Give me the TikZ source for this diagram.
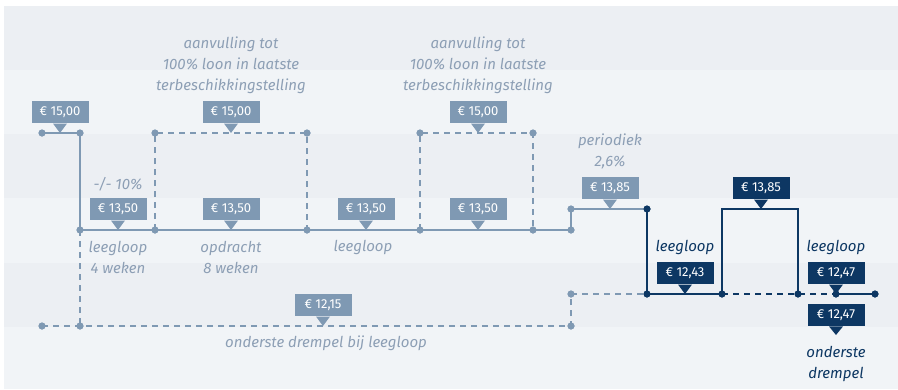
\documentclass[tikz,border=0pt]{standalone}
\usepackage{fontspec}
\setmainfont{Fira Sans}
\usetikzlibrary{calc}
\definecolor{bgA}{HTML}{ECEFF3}
\definecolor{bgB}{HTML}{F1F4F7}
\definecolor{lite}{HTML}{7F99B3}
\definecolor{litetxt}{HTML}{8D9FB5}
\definecolor{navy}{HTML}{0D3763}
\tikzset{
  dotl/.style={circle,fill=lite,inner sep=0pt,minimum size=7pt},
  dotd/.style={circle,fill=navy,inner sep=0pt,minimum size=7pt},
  lsolid/.style={draw=lite,line width=1.5pt},
  ldash/.style={draw=lite,line width=1.3pt,dash pattern=on 6pt off 5pt},
  dsolid/.style={draw=navy,line width=1.5pt},
  ddash/.style={draw=navy,line width=1.3pt,dash pattern=on 6pt off 5pt},
  pricebox/.style={rectangle,inner sep=0pt,minimum width=57pt,minimum height=22pt,text=white,font=\fontsize{13}{15}\selectfont},
  lbl/.style={align=center,text=litetxt,font=\fontsize{15}{21}\selectfont\itshape},
  dlbl/.style={align=center,text=navy,font=\fontsize{15}{21}\selectfont\itshape}
}
\newcommand{\callup}[5]{% name, x, y(tip), text, color
  \node[pricebox,fill=#5,anchor=south] (#1) at (#2,#3-9.5) {#4};
  \fill[#5] ($(#1.south)+(-7pt,0)$) -- (#2,#3) -- ($(#1.south)+(7pt,0)$) -- cycle;}
\begin{document}
\begin{tikzpicture}[x=1pt,y=-1pt]
\useasboundingbox (0,0) rectangle (898,389);
\fill[white] (0,0) rectangle (898,389);
\fill[bgA] (4,6) rectangle (898,70);
\fill[bgB] (4,70) rectangle (898,134);
\fill[bgA] (4,134) rectangle (898,198);
\fill[bgB] (4,198) rectangle (898,263);
\fill[bgA] (4,263) rectangle (898,327);
\fill[bgB] (4,327) rectangle (898,389);

% light dots
\node[dotl] (a1) at (42,133) {};
\node[dotl] (a2) at (80,133) {};
\node[dotl] (b1) at (155,133) {};
\node[dotl] (b2) at (307,133) {};
\node[dotl] (c1) at (420,133) {};
\node[dotl] (c2) at (533,133) {};
\node[dotl] (m0) at (80,230) {};
\node[dotl] (m1) at (155,230) {};
\node[dotl] (m2) at (307,230) {};
\node[dotl] (m3) at (420,230) {};
\node[dotl] (m4) at (533,230) {};
\node[dotl] (m5) at (571,230) {};
\node[dotl] (q1) at (571,209) {};
\node[dotl] (l0) at (42,326) {};
\node[dotl] (l1) at (80,326) {};
\node[dotl] (l2) at (571,326) {};
\node[dotl] (l3) at (571,294) {};
% dark dots
\node[dotd] (d1) at (647,209) {};
\node[dotd] (d2) at (647,294) {};
\node[dotd] (d3) at (722,294) {};
\node[dotd] (d4) at (798,294) {};
\node[dotd] (d5) at (836,294) {};
\node[dotd] (d6) at (875,294) {};
\coordinate (k1) at (722,209);
\coordinate (k2) at (798,209);

% light solid
\path[lsolid] (a1.center) -- (a2.center) -- (m0.center) -- (m5.center) -- (q1.center) -- (d1.center);
% light dashed
\path[ldash] (m1.center) -- (b1.center) -- (b2.center) -- (m2.center);
\path[ldash] (m3.center) -- (c1.center) -- (c2.center) -- (m4.center);
\path[ldash] (m0.center) -- (l1.center);
\path[ldash] (l0.center) -- (l2.center) -- (l3.center) -- (d2.center);
% dark
\path[dsolid] (d1.center) -- (d2.center) -- (d3.center) -- (k1) -- (k2) -- (d4.center);
\path[dsolid] (d5.center) -- (d6.center);
\path[ddash] (d3.center) -- (d4.center) -- (d5.center);

% redraw dots on top
\foreach \n in {a1,a2,b1,b2,c1,c2,m0,m1,m2,m3,m4,m5,q1,l0,l1,l2,l3}{\fill[lite] (\n.center) circle (3.5pt);}
\foreach \n in {d1,d2,d3,d4,d5,d6}{\fill[navy] (\n.center) circle (3.5pt);}

% callouts
\callup{p1}{60}{133}{€ 15,00}{lite}
\callup{p2}{231}{133}{€ 15,00}{lite}
\callup{p3}{478}{133}{€ 15,00}{lite}
\callup{p4}{118}{230}{€ 13,50}{lite}
\callup{p5}{231}{230}{€ 13,50}{lite}
\callup{p6}{366}{230}{€ 13,50}{lite}
\callup{p7}{478}{230}{€ 13,50}{lite}
\callup{p8}{323}{326}{€ 12,15}{lite}
\callup{p9}{610}{209}{€ 13,85}{lite}
\callup{p10}{761}{209}{€ 13,85}{navy}
\callup{p11}{685}{294}{€ 12,43}{navy}
\callup{p12}{836}{294}{€ 12,47}{navy}
\node[pricebox,fill=navy,anchor=north] (p13) at (836,304) {€ 12,47};
\fill[navy] ($(p13.south)+(-7pt,0)$) -- (836,335) -- ($(p13.south)+(7pt,0)$) -- cycle;

% labels
\node[lbl] (t1) at (231,65) {aanvulling tot\\100\% loon in laatste\\terbeschikkingstelling};
\node[lbl] (t2) at (478,65) {aanvulling tot\\100\% loon in laatste\\terbeschikkingstelling};
\node[lbl] (t3) at (118,184) {-/- 10\%};
\node[lbl] (t4) at (118,257) {leegloop\\4 weken};
\node[lbl] (t5) at (231,257) {opdracht\\8 weken};
\node[lbl] (t6) at (363,247) {leegloop};
\node[lbl] (t7) at (326,343) {onderste drempel bij leegloop};
\node[lbl] (t8) at (610,151) {periodiek\\2,6\%};
\node[dlbl] (t9) at (685,247) {leegloop};
\node[dlbl] (t10) at (836,247) {leegloop};
\node[dlbl] (t11) at (836,364) {onderste\\drempel};
\end{tikzpicture}
\end{document}
